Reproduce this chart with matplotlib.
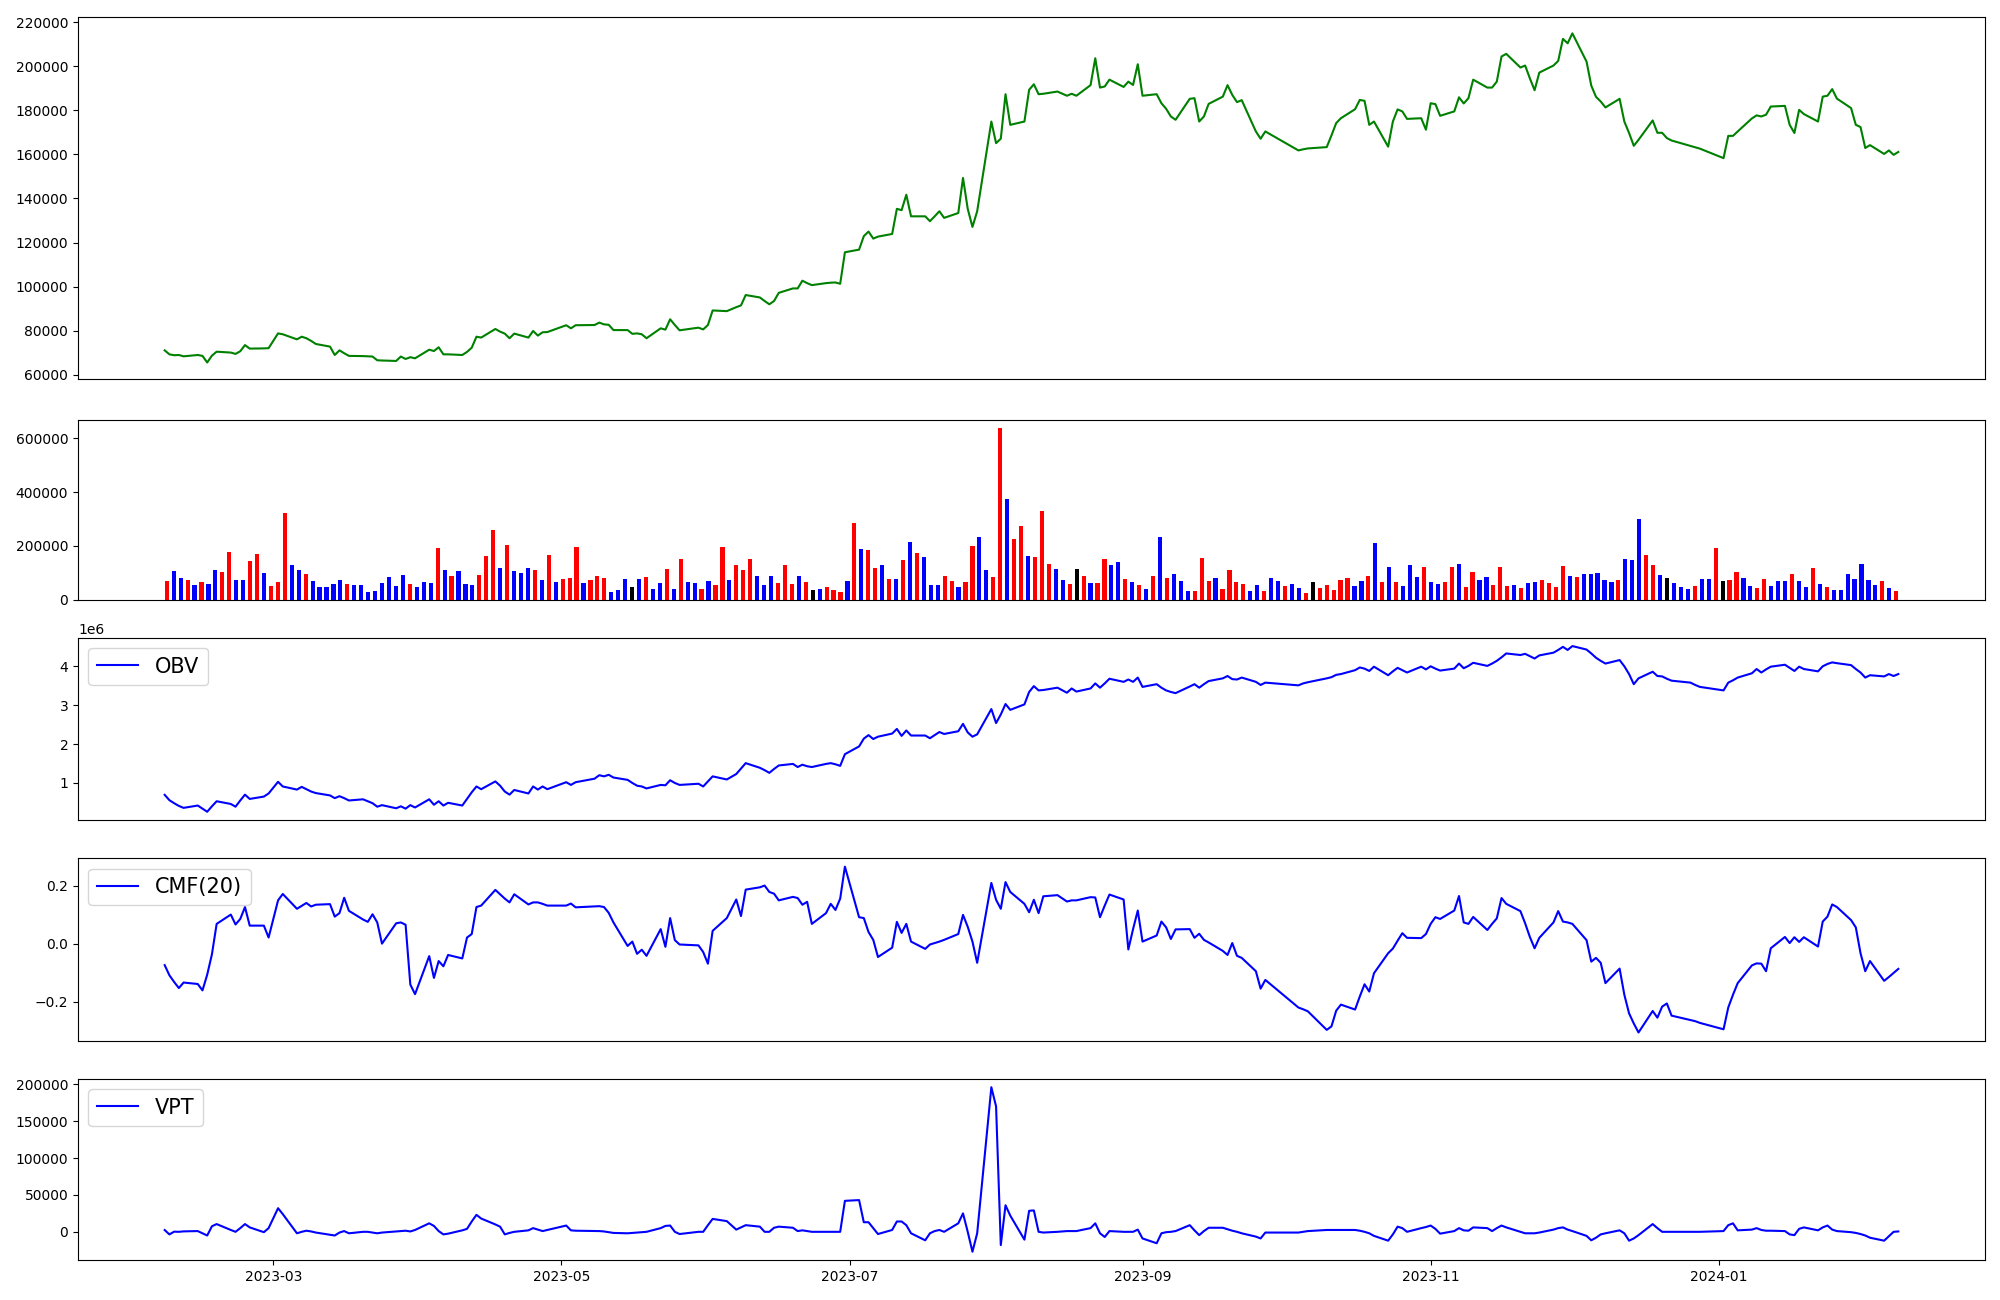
import numpy as np
import pandas as pd
import matplotlib
matplotlib.use("Agg")
import matplotlib.pyplot as plt

# ---------------- data ----------------
start_date = "2023-02-06"
end_date = "2024-02-08"
holidays = ["2023-03-01", "2023-05-01", "2023-05-05", "2023-05-29", "2023-06-06",
            "2023-08-15", "2023-09-28", "2023-09-29", "2023-10-02", "2023-10-03",
            "2023-10-09", "2023-12-25", "2023-12-29", "2024-01-01"]

close_k = [
    71.1, 69.3, 68.9, 69.0, 68.4, 69.0, 68.6, 65.6, 68.7, 70.5,
    70.1, 69.5, 70.7, 73.5, 71.9, 72.0, 72.1, 78.8, 78.4, 76.1,
    77.3, 76.6, 75.4, 74.0, 72.8, 69.0, 71.1, 69.8, 68.6, 68.5,
    68.4, 68.3, 66.6, 66.5, 66.3, 68.3, 67.2, 68.0, 67.5, 71.4,
    70.8, 72.5, 69.3, 69.3, 69.0, 70.4, 72.3, 77.3, 76.9, 80.8,
    79.6, 78.7, 76.6, 78.7, 76.9, 79.9, 77.8, 79.3, 79.4, 82.5,
    81.1, 82.5, 82.6, 83.7, 82.9, 82.7, 80.3, 80.3, 78.6, 78.8,
    78.4, 76.6, 81.1, 80.5, 85.2, 82.6, 80.2, 81.4, 80.6, 82.6,
    89.2, 88.9, 90.7, 91.5, 96.2, 95.1, 93.5, 92.0, 93.5, 97.2,
    99.2, 99.2, 102.7, 101.6, 100.7, 101.6, 101.8, 101.9, 101.3, 115.6,
    116.8, 122.9, 125.0, 121.8, 122.7, 123.9, 135.3, 134.7, 141.7, 131.9,
    131.9, 129.7, 131.9, 134.2, 131.2, 133.4, 149.3, 135.3, 127.1, 134.2,
    174.9, 165.1, 167.1, 187.3, 173.4, 174.9, 189.3, 191.8, 187.3, 187.5,
    188.5, 186.6, 187.5, 186.6, 191.4, 203.6, 190.3, 190.8, 193.9, 190.6,
    193.0, 191.5, 200.9, 186.6, 187.3, 183.2, 180.7, 177.2, 175.7, 185.2,
    185.5, 174.9, 177.2, 182.9, 186.2, 191.4, 187.0, 183.7, 184.6, 170.4,
    167.1, 170.4, 161.8, 162.3, 162.7, 163.3, 168.6, 174.2, 176.4, 180.5,
    184.7, 184.3, 173.4, 174.9, 163.5, 174.9, 180.4, 179.5, 176.1, 176.4,
    171.2, 183.2, 182.8, 177.5, 179.5, 185.9, 183.1, 185.5, 193.9, 190.3,
    190.3, 193.0, 204.4, 205.6, 199.4, 200.3, 194.5, 189.1, 197.1, 200.3,
    202.4, 212.4, 210.4, 214.9, 202.1, 191.2, 186.1, 184.0, 181.3, 185.2,
    174.9, 169.7, 163.9, 166.6, 175.4, 169.8, 169.8, 167.4, 166.3, 163.8,
    163.2, 162.6, 158.3, 168.4, 168.4, 170.4, 176.3, 177.7, 177.2, 178.0,
    181.7, 182.0, 173.4, 169.7, 180.2, 178.3, 174.9, 186.2, 186.6, 189.6,
    185.3, 181.0, 173.4, 172.4, 162.9, 164.2, 160.2, 161.8, 159.8, 161.1,
]

volume_k = [
    70, 107, 82, 74, 56, 67, 59, 111, 104, 178,
    74, 74, 145, 170, 100, 52, 67, 322, 130, 111,
    96, 70, 48, 48, 59, 74, 59, 56, 56, 30,
    33, 63, 85, 52, 93, 59, 48, 67, 63, 193,
    111, 89, 107, 59, 56, 93, 163, 259, 119, 204,
    107, 100, 119, 111, 74, 167, 67, 78, 82, 196,
    63, 74, 89, 82, 30, 37, 78, 48, 78, 85,
    41, 63, 115, 41, 152, 67, 63, 41, 70, 56,
    196, 74, 130, 111, 152, 89, 56, 89, 63, 130,
    59, 89, 67, 37, 41, 48, 37, 30, 70, 285,
    189, 185, 119, 130, 78, 78, 148, 215, 174, 159,
    56, 56, 89, 70, 48, 67, 200, 233, 111, 85,
    638, 374, 226, 274, 163, 159, 330, 133, 115, 74,
    59, 115, 89, 63, 63, 152, 130, 141, 78, 67,
    56, 41, 89, 233, 82, 96, 70, 33, 33, 156,
    70, 82, 41, 111, 67, 59, 33, 56, 33, 82,
    70, 52, 59, 44, 26, 67, 44, 56, 37, 74,
    82, 52, 70, 89, 211, 67, 122, 67, 52, 130,
    85, 122, 67, 59, 67, 122, 133, 48, 104, 74,
    85, 56, 122, 52, 56, 44, 63, 67, 74, 63,
    48, 126, 89, 85, 96, 96, 100, 74, 67, 74,
    152, 148, 300, 167, 130, 93, 82, 63, 48, 41,
    52, 78, 78, 193, 70, 74, 104, 82, 52, 44,
    78, 52, 70, 70, 96, 70, 48, 119, 59, 48,
    37, 37, 96, 78, 133, 74, 56, 70, 44, 33,
]

# R = up (red), B = down (blue), K = unchanged (black)
bar_codes = (
    "RBBRBRBBRR" "BBRRBRRRBB" "RBBBBBRBBB" "BBBBBRBBBR" "BRBBBRRRBR"
    "BBBRBRBRRR" "BRRRBBBKBR" "BBRBRBBRBR" "RBRRRBBBRR" "RBRKBRRRBR"
    "BRRBRBRBRB" "BBRRBRRBBR" "RBRRBRRRBB" "RKRBRRBBRB" "RBRBRBBBRR"
    "RBRRRRBBRB" "BRBBRKRRRR" "RBBRBRBRBB" "BRBBRRBRRB" "BRRRBRBBRR"
    "RRBRBBBBBR" "BBBRRBKBBB" "RBBRKRRBBR" "RBBBRBBRBR" "BBBBBBBRBR"
)

obv_m = [
    0.695, 0.557, 0.48, 0.41, 0.36, 0.42, 0.34, 0.26, 0.40, 0.53,
    0.46, 0.39, 0.55, 0.70, 0.59, 0.65, 0.73, 1.03, 0.91, 0.83,
    0.90, 0.84, 0.78, 0.74, 0.68, 0.61, 0.66, 0.61, 0.55, 0.58,
    0.53, 0.48, 0.39, 0.43, 0.35, 0.40, 0.34, 0.43, 0.37, 0.58,
    0.44, 0.53, 0.42, 0.49, 0.42, 0.59, 0.76, 0.91, 0.84, 1.04,
    0.93, 0.78, 0.70, 0.82, 0.73, 0.91, 0.83, 0.91, 0.84, 1.02,
    0.95, 1.02, 1.11, 1.20, 1.17, 1.21, 1.14, 1.08, 1.00, 0.93,
    0.91, 0.86, 0.95, 0.94, 1.07, 1.00, 0.95, 0.98, 0.91, 1.04,
    1.17, 1.09, 1.23, 1.37, 1.51, 1.39, 1.33, 1.26, 1.36, 1.45,
    1.49, 1.41, 1.47, 1.43, 1.41, 1.49, 1.51, 1.48, 1.44, 1.74,
    1.94, 2.14, 2.23, 2.13, 2.19, 2.27, 2.39, 2.21, 2.35, 2.22,
    2.22, 2.15, 2.23, 2.31, 2.26, 2.33, 2.52, 2.30, 2.19, 2.25,
    2.90, 2.54, 2.76, 3.03, 2.88, 3.02, 3.34, 3.49, 3.38, 3.39,
    3.45, 3.32, 3.43, 3.35, 3.43, 3.56, 3.45, 3.56, 3.68, 3.60,
    3.66, 3.60, 3.71, 3.47, 3.54, 3.45, 3.38, 3.34, 3.31, 3.48,
    3.54, 3.45, 3.54, 3.62, 3.69, 3.75, 3.67, 3.66, 3.71, 3.60,
    3.52, 3.58, 3.51, 3.56, 3.59, 3.69, 3.72, 3.78, 3.80, 3.90,
    3.97, 3.94, 3.88, 3.99, 3.77, 3.87, 3.96, 3.90, 3.84, 3.99,
    3.92, 4.00, 3.94, 3.89, 3.94, 4.07, 3.95, 4.01, 4.09, 4.01,
    4.07, 4.14, 4.23, 4.33, 4.29, 4.32, 4.26, 4.20, 4.28, 4.35,
    4.42, 4.50, 4.42, 4.52, 4.43, 4.33, 4.22, 4.14, 4.07, 4.16,
    4.00, 3.80, 3.54, 3.69, 3.86, 3.75, 3.74, 3.68, 3.63, 3.58,
    3.52, 3.47, 3.38, 3.58, 3.64, 3.71, 3.82, 3.93, 3.84, 3.92,
    3.99, 4.04, 3.96, 3.88, 3.99, 3.93, 3.87, 4.00, 4.06, 4.10,
    4.08, 4.03, 3.93, 3.84, 3.71, 3.77, 3.74, 3.80, 3.75, 3.80,
]

cmf20 = [
    -0.073, -0.108, -0.131, -0.152, -0.133, -0.138, -0.160, -0.106, -0.036, 0.069,
    0.101, 0.067, 0.086, 0.127, 0.063, 0.063, 0.022, 0.150, 0.172, 0.121,
    0.131, 0.141, 0.129, 0.135, 0.137, 0.094, 0.106, 0.159, 0.114, 0.084,
    0.076, 0.102, 0.074, 0.001, 0.071, 0.074, 0.066, -0.140, -0.173, -0.042,
    -0.117, -0.059, -0.077, -0.038, -0.050, 0.022, 0.034, 0.127, 0.132, 0.186,
    0.171, 0.156, 0.143, 0.171, 0.136, 0.143, 0.143, 0.138, 0.132, 0.132,
    0.139, 0.126, 0.129, 0.130, 0.127, 0.107, 0.074, -0.007, 0.008, -0.034,
    -0.020, -0.041, 0.051, -0.010, 0.089, 0.013, -0.002, -0.005, -0.028, -0.068,
    0.045, 0.089, 0.153, 0.096, 0.187, 0.195, 0.201, 0.179, 0.173, 0.150,
    0.162, 0.158, 0.135, 0.145, 0.069, 0.106, 0.138, 0.117, 0.156, 0.266,
    0.092, 0.089, 0.041, 0.014, -0.045, -0.013, 0.076, 0.038, 0.069, 0.008,
    -0.017, -0.002, 0.003, 0.008, 0.014, 0.034, 0.100, 0.059, 0.008, -0.065,
    0.210, 0.152, 0.121, 0.213, 0.179, 0.138, 0.109, 0.152, 0.106, 0.164,
    0.168, 0.146, 0.150, 0.150, 0.161, 0.160, 0.092, 0.132, 0.170, 0.153,
    -0.019, 0.051, 0.115, 0.008, 0.029, 0.077, 0.057, 0.017, 0.050, 0.051,
    0.021, 0.035, 0.014, 0.005, -0.024, -0.038, 0.003, -0.041, -0.048, -0.094,
    -0.154, -0.124, -0.219, -0.225, -0.232, -0.296, -0.284, -0.230, -0.209, -0.226,
    -0.181, -0.139, -0.164, -0.101, -0.032, -0.016, 0.011, 0.037, 0.021, 0.020,
    0.034, 0.069, 0.092, 0.086, 0.115, 0.165, 0.074, 0.069, 0.093, 0.048,
    0.069, 0.088, 0.158, 0.138, 0.113, 0.071, 0.024, -0.015, 0.021, 0.074,
    0.113, 0.077, 0.074, 0.069, 0.013, -0.061, -0.048, -0.065, -0.135, -0.085,
    -0.175, -0.239, -0.274, -0.305, -0.231, -0.254, -0.216, -0.205, -0.247, -0.262,
    -0.266, -0.272, -0.294, -0.219, -0.175, -0.135, -0.074, -0.067, -0.068, -0.094,
    -0.015, 0.024, 0.003, 0.023, 0.007, 0.023, -0.009, 0.077, 0.094, 0.136,
    0.127, 0.082, 0.057, -0.032, -0.094, -0.059, -0.127, -0.114, -0.100, -0.086,
]

vpt_k = [
    2.4, -3.5, 0.2, 0, 0.6, 1, -2, -5, 7.5, 10.5,
    2.5, 0, 5, 10.5, 6, -0.5, 5, 32, 24, -2,
    0, 1.5, 0.5, -1, -4, -5, -1, 1, -2, 0,
    0, -1, -2, -1, 0.5, 1, 1.5, 0.5, 2.5, 11.5,
    8, 1, -3.5, -2.5, 2, 4, 14, 23, 18, 10,
    7, -3.5, -1.5, 0, 2, 5, 3, 1, 2.5, 8.5,
    2, 1.5, 1, 1, 0.5, -0.5, -1.5, -2, -1.5, -1,
    -0.5, 0, 5, 8, 8.5, 0, -3, 0, 0, 9,
    17.5, 14.5, 3, 6, 9, 7, 0, 0, 5.5, 7,
    5.5, 1, 2, 1, 0, 0, 0, 0, 0, 42,
    43, 13, 13, 5, -3, 2.5, 14, 14, 9, -2,
    -11.5, -2, 1, 2.5, 0, 11.5, 25, 0, -27, -2,
    196, 170, -18, 36, 22, -10.6, 28.5, 29, 0, -1,
    0, 1, 1, 1, 5, 11.5, -2, -7, 1, 0,
    0, 0, 3, -9, -15.5, -2, -0.5, 0, 1, 9,
    2, -4.5, 1, 5.5, 5.5, 3.5, 1.5, 0, -2, -6.5,
    -9, -1, -1, 0, 1, 2.5, 2.5, 2.5, 2.5, 2.5,
    1.5, 0, -2, -5.5, -12, -3.5, 7, 5, 0, 5,
    6.5, 8.5, 4, -2.5, 1, 5, 2, 1.5, 6, 5,
    1, 5, 8.5, 6, 0, -2, -2, -2, -1, 3,
    5, 6, 3, 1, -5.5, -11.5, -8, -3.5, -2, 2,
    -2, -12, -9, -4.5, 10.5, 5, 0, 0, 0, 0,
    0, 0, 1, 9, 11.5, 2, 3, 5, 2.5, 1.5,
    1.5, 1, -3.5, -4.5, 4, 6, 2, 6, 8.5, 3,
    1, -0.5, -1.5, -3, -5, -8, -12, -6, 0, 0.5,
]

# ---------------- build ----------------
dates = pd.bdate_range(start_date, end_date)
dates = dates[~dates.isin(pd.to_datetime(holidays))]
n = len(dates)

close = np.array(close_k) * 1000
volume = np.array(volume_k) * 1000
obv = np.array(obv_m) * 1e6
cmf = np.array(cmf20)
vpt = np.array(vpt_k) * 1000
cmap = {"R": "red", "B": "blue", "K": "black"}
bar_colors = [cmap[c] for c in bar_codes]

fig = plt.figure(figsize=(20, 13), dpi=100)
L, W = 0.039, 0.9535
ax1 = fig.add_axes([L, 0.7085, W, 0.2785])
ax2 = fig.add_axes([L, 0.5388, W, 0.1384])
ax3 = fig.add_axes([L, 0.3692, W, 0.1402])
ax4 = fig.add_axes([L, 0.1994, W, 0.1403])
ax5 = fig.add_axes([L, 0.0308, W, 0.1392])

ax1.plot(dates, close, color="green")
ax2.bar(np.arange(n), volume, color=bar_colors, width=0.6)
ax3.plot(dates, obv, color="blue", label="OBV")
ax4.plot(dates, cmf, color="blue", label="CMF(20)")
ax5.plot(dates, vpt, color="blue", label="VPT")

for ax in (ax3, ax4, ax5):
    ax.legend(loc="upper left", fontsize=15)

for ax in (ax1, ax2, ax3, ax4):
    ax.set_xticks([])

fig.savefig("out.png", dpi=100)
